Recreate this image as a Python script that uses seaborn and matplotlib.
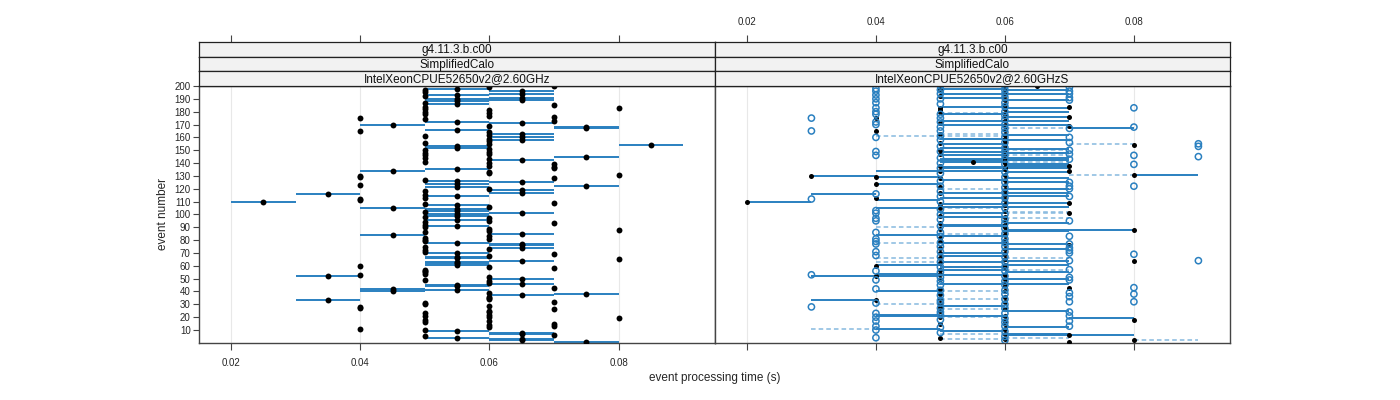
import numpy as np
import pandas as pd
import seaborn as sns
import matplotlib.pyplot as plt

# left panel: mean processing time of each event (events 1..200),
# timer resolution is 0.01 s so a .x5 mean spans the two ticks around it
left_mean = [
    0.075, 0.065, 0.065, 0.055, 0.05, 0.07, 0.065, 0.065, 0.055, 0.05,
    0.04, 0.06, 0.07, 0.06, 0.07, 0.05, 0.06, 0.05, 0.08, 0.06,
    0.05, 0.06, 0.05, 0.06, 0.06, 0.07, 0.04, 0.04, 0.06, 0.05,
    0.05, 0.07, 0.035, 0.06, 0.06, 0.06, 0.065, 0.075, 0.06, 0.045,
    0.055, 0.045, 0.07, 0.055, 0.055, 0.065, 0.06, 0.06, 0.05, 0.065,
    0.06, 0.035, 0.04, 0.05, 0.05, 0.05, 0.05, 0.07, 0.06, 0.04,
    0.055, 0.055, 0.055, 0.065, 0.08, 0.055, 0.055, 0.06, 0.07, 0.055,
    0.05, 0.05, 0.06, 0.065, 0.05, 0.065, 0.065, 0.055, 0.05, 0.05,
    0.06, 0.05, 0.06, 0.045, 0.065, 0.05, 0.06, 0.08, 0.06, 0.05,
    0.055, 0.05, 0.07, 0.05, 0.06, 0.055, 0.06, 0.05, 0.055, 0.055,
    0.065, 0.05, 0.055, 0.055, 0.045, 0.06, 0.055, 0.05, 0.07, 0.025,
    0.04, 0.04, 0.05, 0.055, 0.05, 0.035, 0.065, 0.05, 0.065, 0.06,
    0.055, 0.075, 0.04, 0.055, 0.065, 0.055, 0.05, 0.07, 0.04, 0.04,
    0.08, 0.06, 0.06, 0.045, 0.055, 0.07, 0.07, 0.06, 0.07, 0.06,
    0.05, 0.065, 0.06, 0.05, 0.075, 0.05, 0.06, 0.05, 0.06, 0.05,
    0.06, 0.055, 0.055, 0.085, 0.06, 0.05, 0.06, 0.065, 0.06, 0.065,
    0.05, 0.06, 0.065, 0.06, 0.04, 0.055, 0.075, 0.075, 0.06, 0.045,
    0.065, 0.055, 0.07, 0.05, 0.04, 0.07, 0.06, 0.05, 0.06, 0.05,
    0.06, 0.05, 0.08, 0.05, 0.07, 0.055, 0.05, 0.055, 0.065, 0.055,
    0.065, 0.05, 0.055, 0.065, 0.05, 0.065, 0.05, 0.055, 0.06, 0.07,
]

# right panel: event numbers of the filled (black) points in each time column
black_020 = [110]
black_030 = [130]
black_040 = [175, 165, 129, 124, 113, 60, 52, 33]
black_050 = [198, 192, 183, 181, 180, 171, 163, 156, 150, 147, 138, 134, 128, 121,
             117, 108, 105, 99, 93, 89, 82, 79, 74, 70, 66, 62, 57, 54, 50, 42,
             38, 34, 30, 28, 25, 20, 15, 4]
black_055 = [141]
black_060 = [199, 196, 193, 189, 185, 182, 178, 176, 173, 169, 166, 162, 159, 157,
             154, 151, 148, 145, 142, 140, 137, 135, 131, 127, 123, 119, 115, 111,
             107, 103, 98, 95, 92, 90, 87, 84, 80, 77, 73, 69, 65, 61, 58, 53, 50,
             47, 44, 40, 36, 32, 26, 21, 17, 15, 11, 7, 3]
black_065 = [200]
black_070 = [184, 176, 169, 138, 134, 109, 101, 76, 43, 6, 1]
black_080 = [154, 131, 88, 64, 18, 2]

# right panel: event numbers of the open (blue) points in each time column
open_030 = [175, 165, 112, 53, 28]
open_040 = [198, 196, 193, 190, 187, 183, 180, 178, 172, 170, 160, 149, 146, 116,
            103, 101, 97, 95, 86, 81, 79, 77, 71, 68, 56, 49, 42, 31, 23, 20, 17,
            13, 10, 4]
open_050 = [200, 197, 194, 190, 186, 178, 175, 172, 168, 165, 161, 158, 153, 149,
            144, 140, 136, 132, 126, 122, 118, 114, 110, 104, 100, 96, 91, 86, 83,
            78, 75, 71, 67, 63, 59, 55, 51, 48, 45, 41, 37, 33, 31, 27, 24, 22,
            18, 12, 8]
open_060 = [200, 197, 194, 191, 187, 184, 180, 177, 174, 170, 167, 164, 160, 156,
            152, 149, 146, 143, 139, 133, 129, 125, 121, 117, 113, 109, 105, 100,
            96, 93, 89, 85, 81, 78, 75, 71, 67, 63, 59, 56, 52, 48, 45, 41, 38,
            34, 30, 27, 23, 19, 16, 13, 9, 5, 2]
open_070 = [199, 196, 194, 191, 189, 167, 160, 156, 150, 147, 143, 125, 122, 120,
            114, 95, 83, 77, 74, 72, 70, 64, 57, 51, 49, 39, 36, 32, 24, 21, 17, 13]
open_080 = [183, 168, 146, 139, 122, 69, 43, 38, 32]
open_090 = [155, 153, 145, 64]

# right panel: solid range lines, event numbers per time interval
solid_020_030 = [110]
solid_030_040 = [130, 116, 52, 33]
solid_040_050 = [134, 129, 124, 111, 105, 84, 61, 54, 52, 40, 22, 21, 11]
solid_050_060 = [198, 194, 191, 184, 178, 173, 170, 159, 155, 152, 149, 146, 143,
                 142, 141, 137, 136, 134, 127, 117, 113, 108, 106, 101, 98, 92, 91,
                 83, 78, 70, 68, 63, 59, 57, 53, 46, 29, 21, 9]
solid_060_070 = [197, 194, 189, 183, 180, 176, 173, 170, 162, 158, 151, 148, 144,
                 142, 139, 138, 136, 133, 128, 125, 120, 117, 114, 109, 106, 93, 88,
                 87, 77, 73, 64, 61, 55, 50, 46, 25, 12, 7, 6]
solid_070_080 = [167, 88, 19, 6]
solid_080_090 = [131]

# right panel: dashed range lines
dash_030_040 = [11]
dash_040_050 = [161, 90, 78, 66, 63, 30]
dash_050_060 = [179, 163, 161, 137, 120, 105, 85, 59, 40, 34, 26, 20, 7, 3]
dash_060_070 = [167, 150, 146, 141, 102, 101, 97, 66, 57, 4]
dash_070_080 = [155, 131]
dash_080_090 = [2]

strip_left = ["g4.11.3.b.c00", "SimplifiedCalo", "IntelXeonCPUE52650v2@2.60GHz"]
strip_right = ["g4.11.3.b.c00", "SimplifiedCalo", "IntelXeonCPUE52650v2@2.60GHzS"]

xticks = [0.02, 0.04, 0.06, 0.08]
yticks = list(range(10, 201, 10))


def points(cols):
    rows = [(t, e) for t, evs in cols.items() for e in evs]
    return pd.DataFrame(rows, columns=["time", "event"])


def segments(cols):
    rows = [(lo, hi, e) for (lo, hi), evs in cols.items() for e in evs]
    return pd.DataFrame(rows, columns=["lo", "hi", "event"])


left_df = pd.DataFrame({"event": np.arange(1, len(left_mean) + 1), "time": left_mean})
left_df["lo"] = np.floor(left_df["time"] * 100 + 1e-6) / 100
left_df["hi"] = np.ceil(left_df["time"] * 100 - 1e-6) / 100

black_df = points({0.02: black_020, 0.03: black_030, 0.04: black_040, 0.05: black_050,
                   0.055: black_055, 0.06: black_060, 0.065: black_065,
                   0.07: black_070, 0.08: black_080})
open_df = points({0.03: open_030, 0.04: open_040, 0.05: open_050, 0.06: open_060,
                  0.07: open_070, 0.08: open_080, 0.09: open_090})
solid_df = segments({(0.02, 0.03): solid_020_030, (0.03, 0.04): solid_030_040,
                     (0.04, 0.05): solid_040_050, (0.05, 0.06): solid_050_060,
                     (0.06, 0.07): solid_060_070, (0.07, 0.08): solid_070_080,
                     (0.08, 0.09): solid_080_090})
dash_df = segments({(0.03, 0.04): dash_030_040, (0.04, 0.05): dash_040_050,
                    (0.05, 0.06): dash_050_060, (0.06, 0.07): dash_060_070,
                    (0.07, 0.08): dash_070_080, (0.08, 0.09): dash_080_090})

sns.set_theme(style="white")
plt.rcParams["font.family"] = ["Liberation Sans", "DejaVu Sans"]

LINE = "#2a80c0"
LIGHT = "#86b9df"
FRAME = "#444444"
W, H = 1400, 400
XLIM = (0.01505, 0.0949)
YLIM = (-0.1, 200.0)

fig = plt.figure(figsize=(14, 4), dpi=100)


def box(x0, y0, x1, y1):
    return [x0 / W, 1 - y1 / H, (x1 - x0) / W, (y1 - y0) / H]


panels = [(199, 715, strip_left), (715, 1230, strip_right)]
axes = []
for i, (x0, x1, labels) in enumerate(panels):
    ax = fig.add_axes(box(x0, 86, x1, 343))
    ax.set_xlim(XLIM)
    ax.set_ylim(YLIM)
    for t in xticks:
        ax.axvline(t, color="#e8e8e8", lw=0.8, zorder=0)
    for s in ax.spines.values():
        s.set_color(FRAME)
        s.set_linewidth(1.0)
    ax.set_xticks(xticks)
    ax.tick_params(axis="x", direction="out", length=5, color=FRAME, width=0.8,
                   labelsize=7, pad=6, bottom=True, labelbottom=(i == 0))
    if i == 0:
        ax.set_yticks(yticks)
        ax.tick_params(axis="y", direction="out", length=4, color=FRAME, width=0.8,
                       labelsize=7, pad=2, left=True)
    else:
        ax.set_yticks([])
    axes.append(ax)

    # three strips on top of each panel
    sh = 44 / 3
    for k, lab in enumerate(labels):
        sax = fig.add_axes(box(x0, 42 + k * sh, x1, 42 + (k + 1) * sh))
        sax.set_facecolor("#f2f2f2")
        sax.set_xlim(XLIM)
        sax.set_yticks([])
        for s in sax.spines.values():
            s.set_color("#222222")
            s.set_linewidth(0.9)
        sax.text(0.5, 0.45, lab, ha="center", va="center", fontsize=8.5,
                 transform=sax.transAxes, color="#111111")
        if k == 0:
            sax.set_xticks(xticks)
            sax.xaxis.set_ticks_position("top")
            sax.tick_params(axis="x", direction="out", length=5, color=FRAME,
                            width=0.8, labelsize=7, pad=6, top=True, bottom=False,
                            labeltop=(i == 1), labelbottom=False)
        else:
            sax.set_xticks([])

ax_l, ax_r = axes

# left panel: range of the two runs and their mean
ax_l.hlines(left_df["event"], left_df["lo"], left_df["hi"], color=LINE, lw=1.4, zorder=2)
sns.scatterplot(data=left_df, x="time", y="event", ax=ax_l, color="black",
                s=18, linewidth=0, zorder=3, legend=False)

# right panel
ax_r.hlines(dash_df["event"], dash_df["lo"], dash_df["hi"], color=LIGHT, lw=1.1,
            linestyles=(0, (3, 2)), zorder=2)
ax_r.hlines(solid_df["event"], solid_df["lo"], solid_df["hi"], color=LINE, lw=1.4,
            zorder=2)
sns.scatterplot(data=black_df, x="time", y="event", ax=ax_r, color="black",
                s=13, linewidth=0, zorder=3, legend=False)
ax_r.scatter(open_df["time"], open_df["event"], s=20, facecolors="none",
             edgecolors=LINE, linewidths=1.1, zorder=4)

for ax in axes:
    ax.set_xlim(XLIM)
    ax.set_ylim(YLIM)
    ax.set_xlabel("")
    ax.set_ylabel("")

fig.text(715 / W, 1 - 378 / H, "event processing time (s)", ha="center", va="center",
         fontsize=8.5)
fig.text(163 / W, 1 - 214 / H, "event number", ha="center", va="center",
         rotation=90, fontsize=8.5)

fig.savefig("out.png", dpi=100)
plt.close(fig)
